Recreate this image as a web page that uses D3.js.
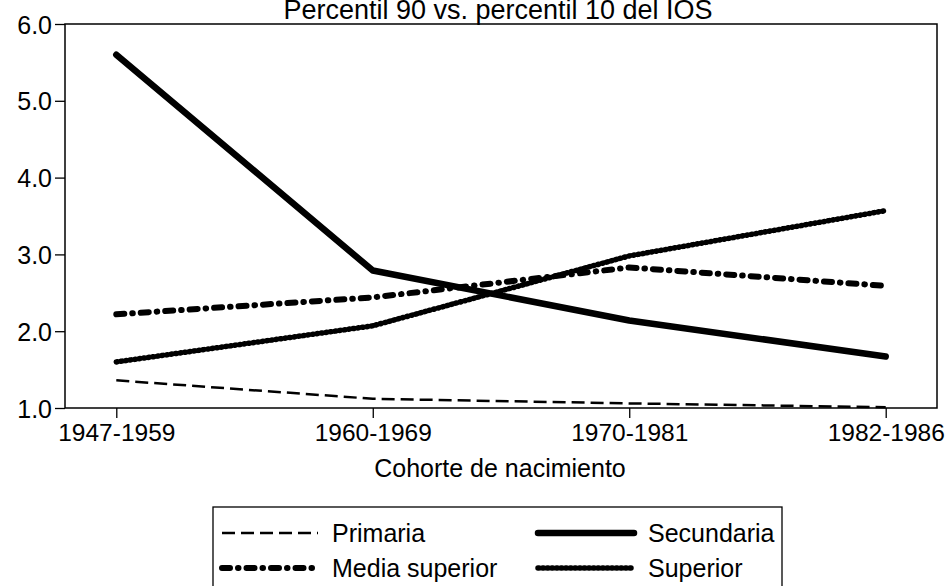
<!DOCTYPE html>
<html>
<head>
<meta charset="utf-8">
<script src="https://cdnjs.cloudflare.com/ajax/libs/d3/7.8.5/d3.min.js"></script>
<style>
  body { margin: 0; background: #fff; }
  text { font-family: "Liberation Sans", Arial, sans-serif; fill: #000; }
</style>
</head>
<body>
<div class="chart"></div>
<script>
// cohorts on the x axis
let cohorts = ["1947-1959", "1960-1969", "1970-1981", "1982-1986"];

// series values (P90 / P10 of IOS)
let primaria = [1.36, 1.12, 1.06, 1.01];
let secundaria = [5.60, 2.79, 2.14, 1.67];
let mediaSuperior = [2.22, 2.44, 2.83, 2.59];
let superior = [1.60, 2.07, 2.98, 3.57];

let yTicks = [1, 2, 3, 4, 5, 6];

let svgWidth = 945;
let svgHeight = 586;

let margin = { top: 24, right: 8, bottom: 178, left: 65 };
let width = svgWidth - margin.left - margin.right;
let height = svgHeight - margin.top - margin.bottom;

let svg = d3.select(".chart")
  .append("svg")
  .attr("width", svgWidth)
  .attr("height", svgHeight);

let chart = svg.append("g")
  .attr("transform", `translate(${margin.left}, ${margin.top})`);

let xScale = d3.scalePoint().domain(cohorts).range([0, width]).padding(0.2);
let yScale = d3.scaleLinear().domain([1, 6]).range([height, 0]);

// series definitions, styles only
let series = [
  { name: "Primaria", values: primaria, width: 2.5, dash: "13 6", cap: "butt" },
  { name: "Secundaria", values: secundaria, width: 6.5, dash: null, cap: "round" },
  { name: "Media superior", values: mediaSuperior, width: 6, dash: "8 8 0.5 8", cap: "round" },
  { name: "Superior", values: superior, width: 5.5, dash: "1 3.6", cap: "round" }
];

// title (sits at the very top, like the original)
svg.append("text")
  .attr("x", 498)
  .attr("y", 19)
  .attr("text-anchor", "middle")
  .style("font-size", "27px")
  .text("Percentil 90 vs. percentil 10 del IOS");

// axes
let yAxis = d3.axisLeft(yScale)
  .tickValues(yTicks)
  .tickFormat(d3.format(".1f"))
  .tickSize(10)
  .tickPadding(3);

let xAxis = d3.axisBottom(xScale)
  .tickSize(10)
  .tickPadding(6);

let gy = chart.append("g").attr("class", "y-axis").call(yAxis);
gy.select(".domain").remove();
gy.selectAll("text").style("font-size", "25px").attr("dy", "0.36em");
gy.selectAll("line").attr("stroke", "#000").attr("stroke-width", 1.3);

let gx = chart.append("g")
  .attr("class", "x-axis")
  .attr("transform", `translate(0, ${height})`)
  .call(xAxis);
gx.select(".domain").remove();
gx.selectAll("text").style("font-size", "24.5px");
gx.selectAll("line").attr("stroke", "#000").attr("stroke-width", 1.3);

// frame around the plot area
chart.append("rect")
  .attr("x", 0)
  .attr("y", 0)
  .attr("width", width)
  .attr("height", height)
  .attr("fill", "none")
  .attr("stroke", "#000")
  .attr("stroke-width", 1.5);

// lines
let line = d3.line()
  .x((d, i) => xScale(cohorts[i]))
  .y(d => yScale(d));

series.forEach(s => {
  chart.append("path")
    .datum(s.values)
    .attr("d", line)
    .attr("fill", "none")
    .attr("stroke", "#000")
    .attr("stroke-width", s.width)
    .attr("stroke-linecap", s.cap)
    .attr("stroke-linejoin", "round")
    .attr("stroke-dasharray", s.dash);
});

// x axis title
svg.append("text")
  .attr("x", 500)
  .attr("y", 477)
  .attr("text-anchor", "middle")
  .style("font-size", "25px")
  .text("Cohorte de nacimiento");

// legend
let legend = svg.append("g").attr("class", "legend");
legend.append("rect")
  .attr("x", 213)
  .attr("y", 507)
  .attr("width", 569)
  .attr("height", 100)
  .attr("fill", "none")
  .attr("stroke", "#000")
  .attr("stroke-width", 1.3);

let legendPos = [
  { x: 222, y: 533 },
  { x: 538, y: 533 },
  { x: 222, y: 568 },
  { x: 538, y: 568 }
];
let sampleLen = 96;

series.forEach((s, i) => {
  let p = legendPos[i];
  legend.append("line")
    .attr("x1", p.x)
    .attr("x2", p.x + sampleLen)
    .attr("y1", p.y)
    .attr("y2", p.y)
    .attr("stroke", "#000")
    .attr("stroke-width", s.width)
    .attr("stroke-linecap", s.cap)
    .attr("stroke-dasharray", s.dash);
  legend.append("text")
    .attr("x", p.x + sampleLen + 14)
    .attr("y", p.y)
    .attr("dy", "0.36em")
    .style("font-size", "25px")
    .text(s.name);
});
</script>
</body>
</html>
